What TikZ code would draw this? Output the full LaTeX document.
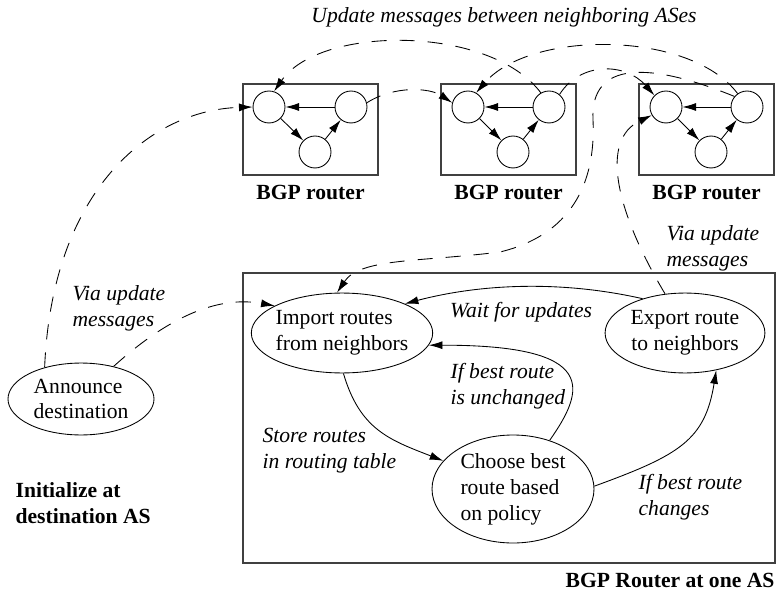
\documentclass[tikz,border=0pt]{standalone}
\usepackage{fontspec}
\setmainfont{Liberation Serif}
\usepackage{tikz}
\usetikzlibrary{positioning,arrows.meta,shapes}

\begin{document}
\begin{tikzpicture}[x=0.463pt, y=-0.463pt,
		hop/.style={circle, draw, minimum size=14.8pt, inner sep=0pt},
		asbox/.style={draw=black!75, line width=0.6pt, minimum width=62.5pt, minimum height=42.1pt},
		task/.style={ellipse, draw, inner xsep=-1pt, inner ysep=0pt},
		note/.style={font=\itshape, align=left},
		head/.style={font=\bfseries, align=left},
		flow/.style={-{Latex[length=6.3pt,width=3.7pt]}},
		msg/.style={flow, dash pattern=on 7pt off 6pt}]
			%\draw[help lines] (0,0) grid[step=50] (776,594);
			\useasboundingbox (0,0) rectangle (776,594);

			% three neighboring routers
			\node[asbox] (box1) at (310.5,129.5) {};
			\node[asbox] (box2) at (508.5,129.5) {};
			\node[asbox] (box3) at (706.5,129.5) {};
			\node[hop] (in1) at (269,107) {};
			\node[hop] (out1) at (351,107) {};
			\node[hop] (dec1) at (315,152) {};
			\node[hop] (in2) at (468,107) {};
			\node[hop] (out2) at (549,107) {};
			\node[hop] (dec2) at (513,152) {};
			\node[hop] (in3) at (666,107) {};
			\node[hop] (out3) at (747,107) {};
			\node[hop] (dec3) at (711,152) {};
			\draw[flow] (out1) -- (in1);
			\draw[flow] (in1) -- (dec1);
			\draw[flow] (dec1) -- (out1);
			\draw[flow] (out2) -- (in2);
			\draw[flow] (in2) -- (dec2);
			\draw[flow] (dec2) -- (out2);
			\draw[flow] (out3) -- (in3);
			\draw[flow] (in3) -- (dec3);
			\draw[flow] (dec3) -- (out3);
			\node[head, below=1pt of box1] (lab1) {BGP router};
			\node[head, below=1pt of box2] (lab2) {BGP router};
			\node[head, below=1pt of box3] (lab3) {BGP router};
			\node[note] (top) at (504,17) {Update messages between neighboring ASes};

			% the router at one AS
			\draw[draw=black!75, line width=0.6pt] (243,273) rectangle (775,563);
			\node[task, minimum width=83.3pt, minimum height=37pt, align=left] (imp) at (342,333) {Import routes\\from neighbors};
			\node[task, minimum width=74pt, minimum height=37pt, align=center] (exp) at (685,333) {Export route\\to neighbors};
			\node[task, minimum width=75pt, minimum height=50pt, align=left] (choose) at (513,489) {Choose best\\route based\\on policy};
			\node[task, minimum width=67.6pt, minimum height=33.3pt, align=left] (ann) at (81,399) {Announce\\destination};

			\node[note, anchor=west] (via1) at (65,308) {Via update\\messages};
			\node[note, anchor=west] (via2) at (659,248) {Via update\\messages};
			\node[note] (wait) at (521,312) {Wait for updates};
			\node[note, anchor=west] (same) at (443,386) {If best route\\is unchanged};
			\node[note, anchor=west] (store) at (255,451) {Store routes\\in routing table};
			\node[note, anchor=west] (chg) at (631,497) {If best route\\changes};
			\node[head, anchor=west] (init) at (8,503) {Initialize at\\destination AS};
			\node[head, anchor=east] (one) at (782,580) {BGP Router at one AS};

			% update messages
			\draw[msg] (ann.139) .. controls (52,190) and (150,110) .. (in1.west);
			\draw[msg] (ann.45) .. controls (165,320) and (215,295) .. (imp.158);
			\draw[msg] (out1.15) .. controls (395,85) and (430,88) .. (in2.165);
			\draw[msg] (out2.120) .. controls (490,25) and (320,25) .. (in1.72);
			\draw[msg] (out2.50) .. controls (580,62) and (625,62) .. (in3.135);
			\draw[msg] (out3.125) .. controls (690,30) and (530,30) .. (in2.60);
			\draw[msg] (out3.140) .. controls (650,62) and (590,60) .. (593,120) .. controls (596,185) and (570,235) .. (500,252) .. controls (420,262) and (360,258) .. (imp.97);
			\draw[msg] (exp.117) .. controls (615,210) and (600,140) .. (in3.210);

			% inside the router
			\draw[flow] (exp.141) .. controls (560,280) and (480,284) .. (imp.25);
			\draw[flow] (choose.53) .. controls (585,390) and (600,345) .. (imp.-8);
			\draw[flow] (imp.-88) .. controls (360,430) and (390,440) .. (choose.158);
			\draw[flow] (choose.2) .. controls (680,455) and (705,440) .. (exp.-50);
		\end{tikzpicture}
\end{document}
